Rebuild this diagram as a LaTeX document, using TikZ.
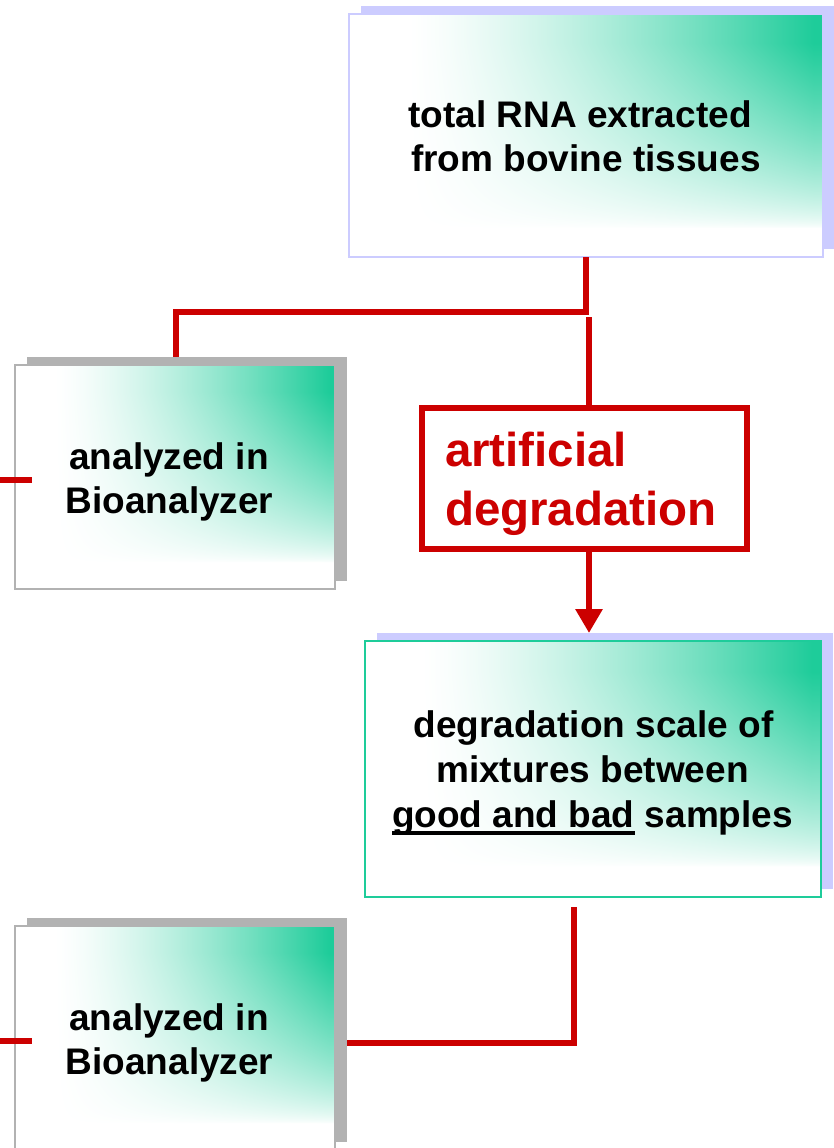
\documentclass[tikz,border=0pt]{standalone}
\usepackage{fontspec}
\setmainfont{Liberation Sans}
\usetikzlibrary{arrows.meta}
\definecolor{grn}{RGB}{30,204,154}
\definecolor{lav}{RGB}{204,204,255}
\definecolor{shgray}{RGB}{178,178,178}
\definecolor{rd}{RGB}{204,0,0}
\pgfdeclarefunctionalshading{boxshade}{\pgfpointorigin}{\pgfpoint{100bp}{100bp}}{}{
  25 sub 50 div
  0.12 sub 0.76 div dup 0 lt {pop 0} if dup 1 gt {pop 1} if 0.7 exp
  exch 25 sub 50 div
  0.12 sub 0.86 div dup 0 lt {pop 0} if dup 1 gt {pop 1} if 1.4 exp
  mul
  dup 0.882 mul 1 exch sub
  exch dup 0.2 mul 1 exch sub
  exch 0.396 mul 1 exch sub
}
\newcommand\myul[1]{\setbox0\hbox{#1}\rlap{\rule[-8pt]{\wd0}{4pt}}\box0\relax}
\begin{document}
\begin{tikzpicture}[x=1pt,y=-1pt,
  greenbox/.style={inner sep=0pt, outer sep=0pt, shading=boxshade},
  shadowbox/.style={inner sep=0pt, outer sep=0pt, draw=none},
  conn/.style={draw=rd, line width=6pt, line join=miter},
  txt/.style={inner sep=0pt, outer sep=0pt, anchor=base, text=black, font=\fontsize{37}{44}\selectfont\bfseries},
  rtxt/.style={inner sep=0pt, outer sep=0pt, anchor=base west, text=rd, font=\fontsize{47.5}{59}\selectfont\bfseries}
]
\useasboundingbox (0,0) rectangle (834,1148);

% shadows
\node[shadowbox, fill=lav, minimum width=474pt, minimum height=243pt] (tops) at (597.5,127.5) {};
\node[shadowbox, fill=shgray, minimum width=320pt, minimum height=224pt] (left1s) at (186.5,469) {};
\node[shadowbox, fill=lav, minimum width=456pt, minimum height=256pt] (mids) at (604.5,761) {};
\node[shadowbox, fill=shgray, minimum width=320pt, minimum height=224pt] (left2s) at (186.5,1030) {};

% boxes
\node[greenbox, draw=lav, line width=1.5pt, minimum width=474pt, minimum height=243pt] (top) at (586,135.5) {};
\node[greenbox, draw=shgray, line width=1.5pt, minimum width=320pt, minimum height=224pt] (left1) at (175,477) {};
\node[greenbox, draw=grn, line width=2pt, minimum width=456pt, minimum height=256pt] (mid) at (593,769) {};
\node[greenbox, draw=shgray, line width=1.5pt, minimum width=320pt, minimum height=224pt] (left2) at (175,1038) {};
\node[draw=rd, line width=6pt, inner sep=0pt, outer sep=0pt, minimum width=325pt, minimum height=141pt] (degr) at (584.5,478.5) {};

% texts
\node[txt] (t1) at (580,127) {total RNA extracted};
\node[txt] (t2) at (586,171) {from bovine tissues};
\node[txt] (l1a) at (169,469) {analyzed in};
\node[txt] (l1b) at (169.5,513) {Bioanalyzer};
\node[txt] (m1) at (593.5,737) {degradation scale of};
\node[txt] (m2) at (592.5,782) {mixtures between};
\node[txt] (m3) at (592.5,827) {\myul{good and bad} samples};
\node[txt] (l2a) at (169,1030) {analyzed in};
\node[txt] (l2b) at (169.5,1074) {Bioanalyzer};
\node[rtxt] (d1) at (445,466) {artificial};
\node[rtxt] (d2) at (445,525) {degradation};

% connectors
\coordinate (j1) at (586,311.5);
\coordinate (j1l) at (176,311.5);
\draw[conn] (top.south) -- (j1) -- (j1l) -- (j1l |- left1s.north);
\coordinate (v2) at (588.5,317);
\draw[conn] (v2) -- (v2 |- degr.north);
\coordinate (a2) at (589,633);
\draw[conn, -{Triangle[width=26pt,length=24pt]}] (degr.south -| a2) -- (a2);
\coordinate (b1) at (573.5,907);
\coordinate (b2y) at (0,1043);
\draw[conn] (b1) |- (left2s.east |- b2y);
\coordinate (s1) at (0,480);
\draw[conn] (s1) -- ++(32,0);
\coordinate (s2) at (0,1041);
\draw[conn] (s2) -- ++(32,0);
\end{tikzpicture}
\end{document}
